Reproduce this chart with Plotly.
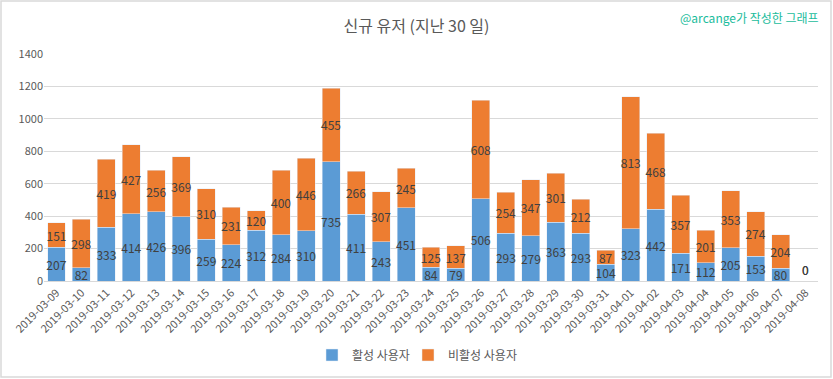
import plotly.graph_objects as go

dates = ["2019-03-09","2019-03-10","2019-03-11","2019-03-12","2019-03-13","2019-03-14","2019-03-15",
         "2019-03-16","2019-03-17","2019-03-18","2019-03-19","2019-03-20","2019-03-21","2019-03-22",
         "2019-03-23","2019-03-24","2019-03-25","2019-03-26","2019-03-27","2019-03-28","2019-03-29",
         "2019-03-30","2019-03-31","2019-04-01","2019-04-02","2019-04-03","2019-04-04","2019-04-05",
         "2019-04-06","2019-04-07","2019-04-08"]
active = [207, 82, 333, 414, 426, 396, 259, 224, 312, 284, 310, 735, 411, 243, 451, 84, 79, 506,
          293, 279, 363, 293, 104, 323, 442, 171, 112, 205, 153, 80, 0]
inactive = [151, 298, 419, 427, 256, 369, 310, 231, 120, 400, 446, 455, 266, 307, 245, 125, 137, 608,
            254, 347, 301, 212, 87, 813, 468, 357, 201, 353, 274, 204, 0]
y_ticks = [0, 200, 400, 600, 800, 1000, 1200, 1400]

FONT = "Noto Sans CJK KR"
W, H = 833, 379
ml, mr, mt, mb = 44, 15, 54, 98
pw, ph = W - ml - mr, H - mt - mb

def positions(vals):
    return ["inside" if v > 0 else "outside" for v in vals]

fig = go.Figure()
for vals, name, color, lg in [(active, "활성 사용자", "#5B9BD5", "legend"),
                              (inactive, "비활성 사용자", "#ED7D31", "legend2")]:
    fig.add_trace(go.Bar(x=dates, y=vals, name=name, marker_color=color, legend=lg,
                         text=vals, textposition=positions(vals), insidetextanchor="middle",
                         textangle=0,
                         textfont=dict(color="#404040", size=12, family=FONT),
                         constraintext="none", cliponaxis=False))

leg_common = dict(orientation="h", xanchor="left", y=(281 - 355) / ph, yanchor="middle",
                  font=dict(size=12, color="#595959", family=FONT), itemwidth=30,
                  bgcolor="rgba(0,0,0,0)")
fig.update_layout(
    width=W, height=H, barmode="stack", bargap=0.28,
    margin=dict(l=ml, r=mr, t=mt, b=mb, autoexpand=False),
    paper_bgcolor="white", plot_bgcolor="white",
    font=dict(family=FONT, color="#595959", size=11),
    title=dict(text="신규 유저 (지난 30 일)", x=0.5, xanchor="center", y=1 - 26 / H, yanchor="middle",
               font=dict(size=16, color="#595959", family=FONT)),
    showlegend=True,
    legend=dict(x=(312 - ml) / pw, **leg_common),
    legend2=dict(x=(408 - ml) / pw, **leg_common),
    uniformtext=dict(mode=False),
)
fig.update_yaxes(range=[0, 1400], tickvals=y_ticks, gridcolor="#D9D9D9", gridwidth=1,
                 zeroline=False, showline=False, ticks="", automargin=False,
                 tickfont=dict(size=11, color="#595959"))
fig.update_xaxes(type="category", tickangle=-45, showline=True, linecolor="#D9D9D9", linewidth=1,
                 ticks="", automargin=False, tickfont=dict(size=11, color="#595959"))

fig.add_annotation(text="@arcange가 작성한 그래프", xref="paper", yref="paper",
                   x=1 + 3 / pw, xanchor="right", y=1 + (mt - 17) / ph, yanchor="middle",
                   showarrow=False, font=dict(size=12, color="#1ABC9C", family=FONT))
fig.add_shape(type="rect", xref="paper", yref="paper",
              x0=-(ml - 1) / pw, x1=1 + (mr - 2) / pw, y0=-(mb - 2) / ph, y1=1 + (mt - 1) / ph,
              line=dict(color="#D9D9D9", width=1.5), fillcolor="rgba(0,0,0,0)", layer="below")

fig.write_html("out.html", config={"displayModeBar": False},
               post_script="document.body.style.margin='0';")
